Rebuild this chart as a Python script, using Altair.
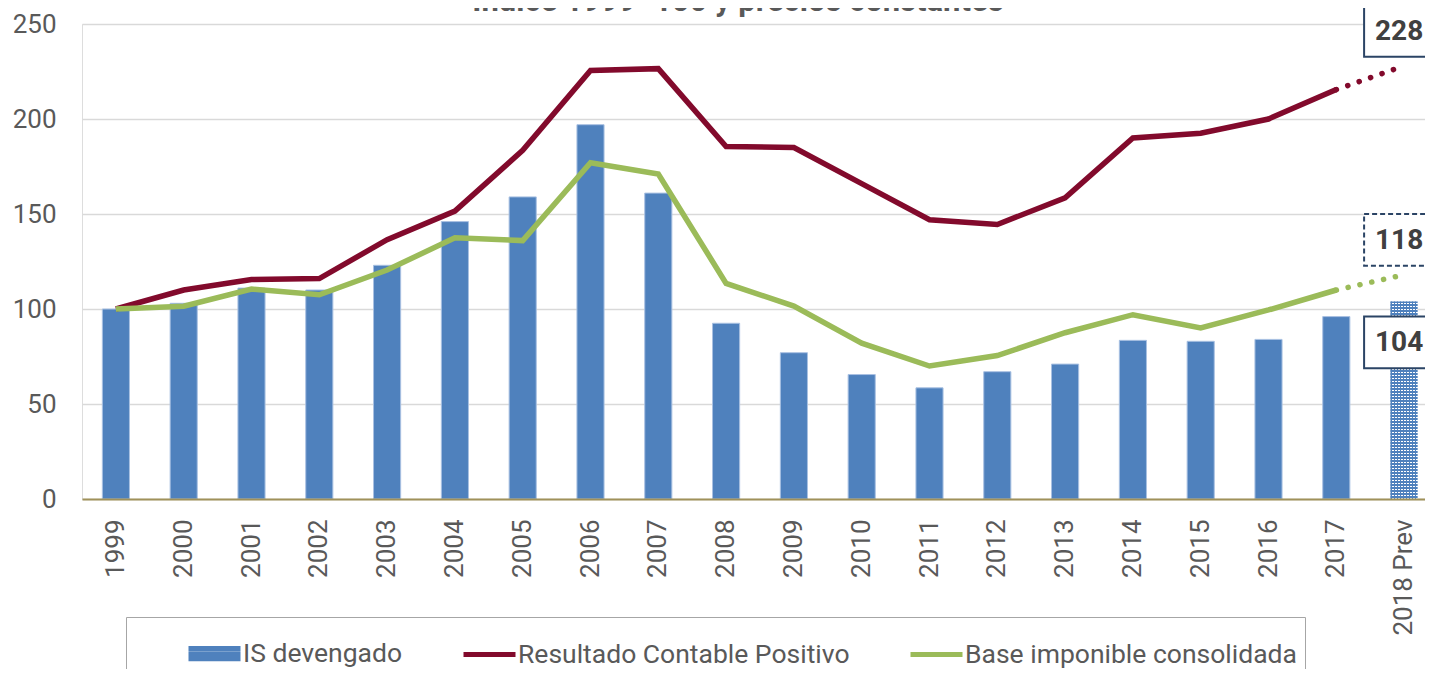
import altair as alt
import pandas as pd

# ---------------- data ----------------
years = ["1999", "2000", "2001", "2002", "2003", "2004", "2005", "2006", "2007",
         "2008", "2009", "2010", "2011", "2012", "2013", "2014", "2015", "2016",
         "2017", "2018 Prev"]
is_devengado = [100, 103, 111, 110, 123, 146, 159, 197, 161, 92.5, 77, 65.5,
                58.5, 67, 71, 83.5, 83, 84, 96, 104]
resultado_contable = [100, 110, 115.5, 116, 136.5, 151.5, 183.5, 225.5, 226.5,
                      185.5, 185, 166, 147, 144.5, 158.5, 190, 192.5, 200, 215.5, 228]
base_imponible = [100, 101.5, 110.5, 107.5, 120.5, 137.5, 136, 177, 171, 113.5,
                  101.5, 82, 70, 75.5, 87.5, 97, 90, 99.5, 110, 118]
series_names = ["IS devengado", "Resultado Contable Positivo", "Base imponible consolidada"]
y_ticks = [0, 50, 100, 150, 200, 250]
title_text = "Índice 1999=100 y precios constantes"

# ---------------- styles ----------------
BLUE = "#4f81bd"
RED = "#820a2c"
GREEN = "#9bbb59"
TXT = "#595959"
FONT = "Roboto"
series_colors = [BLUE, RED, GREEN]

last = years[-1]
prev = years[-2]

bar_df = pd.DataFrame({"year": years, "value": is_devengado})

x_enc = alt.X(
    "year:N", sort=years,
    scale=alt.Scale(domain=years, paddingInner=0.6, paddingOuter=0.3),
    axis=alt.Axis(title=None, labelAngle=270, labelFontSize=26, labelColor=TXT,
                  labelFont=FONT, labelPadding=20, ticks=False, grid=False,
                  domainColor="#a0915a", domainWidth=2, zindex=1),
)
y_enc = alt.Y(
    "value:Q",
    scale=alt.Scale(domain=[0, 250], nice=False, zero=True),
    axis=alt.Axis(title=None, values=y_ticks, labelFontSize=26, labelColor=TXT,
                  labelFont=FONT, labelPadding=26, ticks=False, domain=False,
                  grid=True, gridColor="#d9d9d9", gridWidth=1.5, zindex=0),
)

bars = alt.Chart(bar_df).transform_filter(
    alt.datum.year != last
).mark_bar(color=BLUE, stroke="#a9c1e2", strokeWidth=1).encode(x=x_enc, y=y_enc)


# checked projection bar: vertical stripes under horizontal stripes
def stripes(on, off, n, horizontal):
    st = []
    for i in range(n):
        a, b, c = i / n, (i + 0.5) / n, (i + 1) / n
        st += [alt.GradientStop(color=on, offset=a), alt.GradientStop(color=on, offset=b),
               alt.GradientStop(color=off, offset=b), alt.GradientStop(color=off, offset=c)]
    if horizontal:
        return alt.LinearGradient(gradient="linear", stops=st, x1=0, x2=0, y1=0, y2=1)
    return alt.LinearGradient(gradient="linear", stops=st, x1=0, x2=1, y1=0, y2=0)


proj_df = bar_df[bar_df["year"] == last]
bar_proj_a = alt.Chart(proj_df).mark_bar(fill=stripes(BLUE, "#ffffff", 9, False)).encode(x=x_enc, y=y_enc)
bar_proj_b = alt.Chart(proj_df).mark_bar(
    fill=stripes("rgba(79,129,189,1)", "rgba(79,129,189,0)", 66, True)).encode(x=x_enc, y=y_enc)


def series_lines(values, color):
    d = pd.DataFrame({"year": years, "value": values})
    solid = alt.Chart(d).transform_filter(alt.datum.year != last).mark_line(
        strokeWidth=5.5, color=color).encode(x=x_enc, y=y_enc)
    dotted = alt.Chart(d).transform_filter(
        alt.FieldOneOfPredicate(field="year", oneOf=[prev, last])
    ).mark_line(strokeWidth=5.5, color=color, strokeDash=[0.1, 12], strokeCap="round"
                ).encode(x=x_enc, y=y_enc)
    return solid + dotted


rcp_lines = series_lines(resultado_contable, RED)
base_lines = series_lines(base_imponible, GREEN)

box_path = "M-1,-0.72H1V0.72H-1Z"


def value_box(val, dy, dashed):
    d = pd.DataFrame({"year": [last], "value": [val], "label": [f"{val:g}"]})
    kw = dict(shape=box_path, size=72 * 72, filled=True, fill="white", stroke="#2b4465",
              strokeWidth=2, opacity=1, xOffset=-4, yOffset=dy)
    if dashed:
        kw["strokeDash"] = [5, 3]
    b = alt.Chart(d).mark_point(**kw).encode(x=x_enc, y=y_enc)
    t = alt.Chart(d).mark_text(fontSize=28, fontWeight="bold", color="#404040", font=FONT,
                               xOffset=-5, yOffset=dy + 1, baseline="middle", align="center"
                               ).encode(x=x_enc, y=y_enc, text="label:N")
    return b + t


box_rcp = value_box(resultado_contable[-1], -35, False)
box_base = value_box(base_imponible[-1], -35, True)
box_is = value_box(is_devengado[-1], 41, False)

# chart heading (partly cut by the top edge, as in the source picture)
title_layer = alt.Chart(pd.DataFrame({"t": [title_text]})).mark_text(
    fontSize=31, fontWeight="bold", color=TXT, font=FONT, align="center", baseline="alphabetic"
).encode(x=alt.value(656), y=alt.value(-13), text="t:N")

# legend carrier (invisible points, legend only)
rect_sym = "M-1,-0.2H1M-1,0H1M-1,0.2H1"
leg_df = pd.DataFrame({"serie": series_names, "year": [years[0]] * 3, "value": [0] * 3})
legend_layer = alt.Chart(leg_df).mark_point(filled=False, opacity=0, strokeWidth=5).encode(
    x=x_enc, y=y_enc,
    color=alt.Color("serie:N", scale=alt.Scale(domain=series_names, range=series_colors),
                    legend=alt.Legend(orient="none", legendX=44, legendY=593,
                                      direction="horizontal", columns=3,
                                      title="\u00a0", titleOrient="left", titleFontSize=1,
                                      titlePadding=52,
                                      labelFontSize=26.5, labelColor=TXT, labelFont=FONT,
                                      labelLimit=600,
                                      symbolSize=2704, symbolStrokeWidth=5,
                                      symbolOpacity=1, columnPadding=50, labelOffset=0,
                                      padding=8, strokeColor="#a6a6a6")),
    shape=alt.Shape("serie:N", scale=alt.Scale(domain=series_names,
                                               range=[rect_sym, "stroke", "stroke"])),
)

chart = alt.layer(
    bars, bar_proj_a, bar_proj_b, rcp_lines, base_lines, box_rcp, box_base, box_is,
    title_layer, legend_layer
).properties(
    width=1356, height=475,
    autosize=alt.AutoSizeParams(type="none"),
    padding={"left": 74, "top": 16, "right": -13, "bottom": 170},
).configure_view(stroke=None).configure(font=FONT)

chart.save("out.html", embed_options={"renderer": "svg", "actions": False})
